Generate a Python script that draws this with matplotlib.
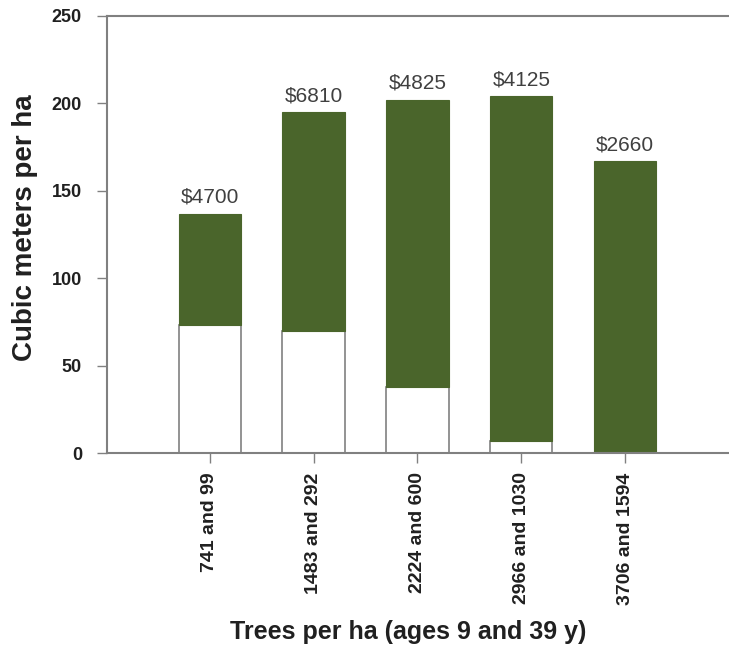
import matplotlib.pyplot as plt

plt.rcParams['font.family'] = ['Liberation Sans', 'DejaVu Sans']

# data
stands = ["741 and 99", "1483 and 292", "2224 and 600", "2966 and 1030", "3706 and 1594"]
lower_part = [73, 70, 38, 7, 0]          # white (lower) portion
total = [137, 195, 202, 204, 167]        # top of green portion
value_labels = ["$4700", "$6810", "$4825", "$4125", "$2660"]

green = "#4a652b"
grey = "#808080"

fig = plt.figure(figsize=(7.29, 6.6), dpi=100)
ax = fig.add_axes([107 / 729, 1 - 453 / 660, 1 - 107 / 729, 437 / 660])

x = list(range(len(stands)))
upper_part = [t - l for t, l in zip(total, lower_part)]

ax.bar(x, lower_part, width=0.6, color="white", edgecolor=grey, linewidth=1.2)
ax.bar(x, upper_part, width=0.6, bottom=lower_part, color=green, edgecolor=green, linewidth=0.8)

for xi, t, lab in zip(x, total, value_labels):
    ax.text(xi, t + 4, lab, ha="center", va="bottom", fontsize=15, color="#404040")

ax.set_xlim(-0.99, 5.0)
ax.set_ylim(0, 250)
ax.set_yticks([0, 50, 100, 150, 200, 250])
ax.set_xticks(x)
ax.set_xticklabels(stands, rotation=90, fontsize=14, fontweight="bold", color="#202020")
for lbl in ax.get_yticklabels():
    lbl.set_fontweight("bold")
    lbl.set_fontsize(13)
    lbl.set_color("#202020")

ax.spines["right"].set_visible(False)
for s in ["left", "bottom", "top"]:
    ax.spines[s].set_color(grey)
    ax.spines[s].set_linewidth(1.5)
ax.tick_params(axis="both", direction="out", color=grey, length=7, width=1)
ax.tick_params(axis="x", pad=7)
ax.tick_params(axis="y", pad=11)

fig.text(25 / 729, 1 - 228 / 660, "Cubic meters per ha", rotation=90, ha="center", va="center",
         fontsize=20, fontweight="bold", color="#202020")
fig.text(408 / 729, 1 - 632 / 660, "Trees per ha (ages 9 and 39 y)", ha="center", va="center",
         fontsize=18, fontweight="bold", color="#202020")

fig.savefig("out.png", dpi=100)
